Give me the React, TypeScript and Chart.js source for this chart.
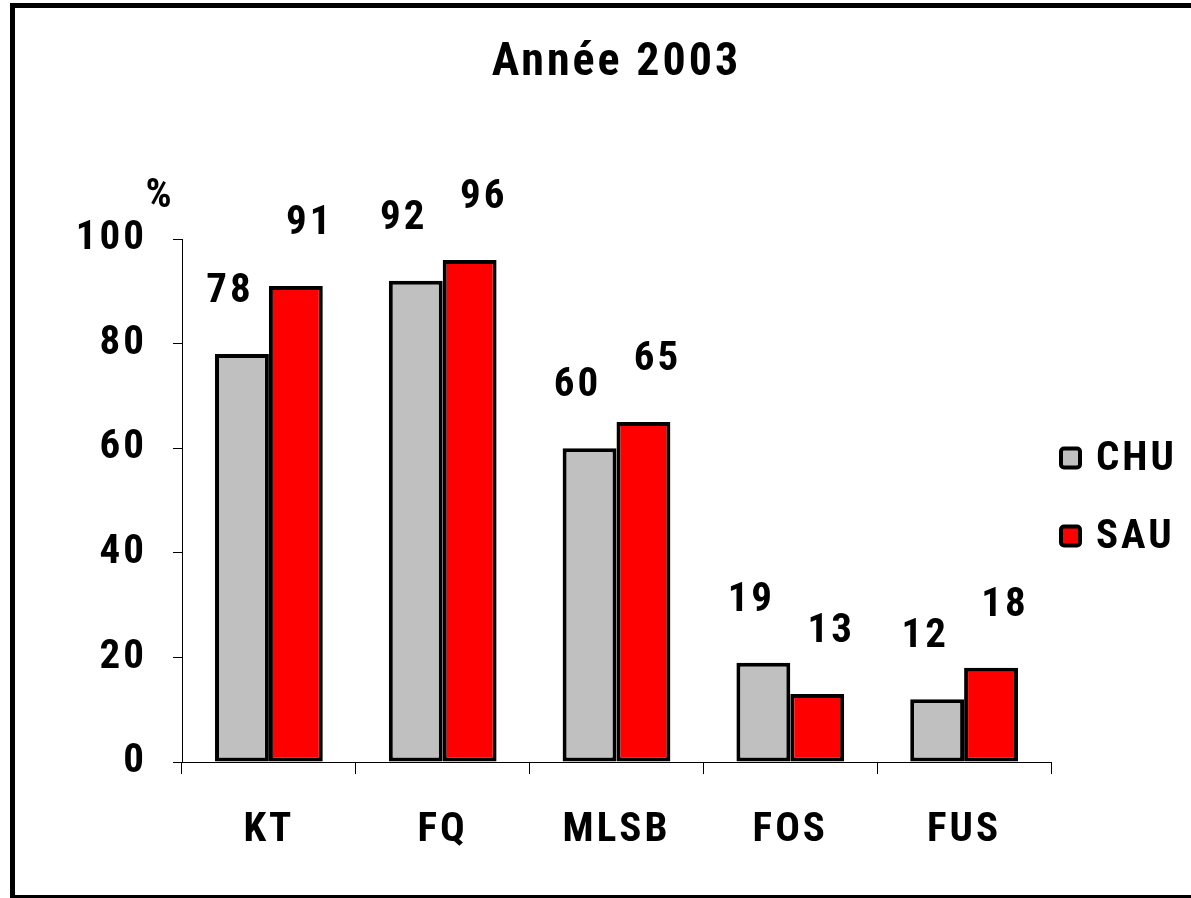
import { useEffect, useRef } from "react";
import { Chart, registerables } from "chart.js";

Chart.register(...registerables);

const categories = ["KT", "FQ", "MLSB", "FOS", "FUS"];
const seriesNames = ["CHU", "SAU"];
const chuValues = [78, 92, 60, 19, 12];
const sauValues = [91, 96, 65, 13, 18];
const seriesColors = ["#C0C0C0", "#FF0000"];
const yTicks = [0, 20, 40, 60, 80, 100];
const titleText = "Année 2003";
const unitLabel = "%";

const FONT = '"Roboto Condensed", "Open Sans", sans-serif';
const SPACING = "3px";
const labelShift = [-12, 14];

const spacingPlugin = {
  id: "spacing",
  beforeUpdate(chart: any) {
    chart.ctx.letterSpacing = SPACING;
  },
  beforeDraw(chart: any) {
    chart.ctx.letterSpacing = SPACING;
  },
};

const framePlugin = {
  id: "frame",
  afterDraw(chart: any) {
    const ctx = chart.ctx;
    const W = chart.width;
    const H = chart.height;
    ctx.save();
    ctx.fillStyle = "#000";
    ctx.fillRect(10, 3, W - 10, 5);
    ctx.fillRect(10, 3, 5, H - 3);
    ctx.fillRect(10, H - 3, W - 10, 3);
    ctx.restore();
  },
};

const labelsPlugin = {
  id: "valueLabels",
  afterDatasetsDraw(chart: any) {
    const ctx = chart.ctx;
    ctx.save();
    ctx.letterSpacing = SPACING;
    ctx.fillStyle = "#000";
    ctx.font = `bold 41px ${FONT}`;
    ctx.textAlign = "center";
    ctx.textBaseline = "middle";
    chart.data.datasets.forEach((ds: any, i: number) => {
      const meta = chart.getDatasetMeta(i);
      meta.data.forEach((bar: any, j: number) => {
        ctx.fillText(String(ds.data[j]), bar.x + labelShift[i], bar.y - 62);
      });
    });
    const ca = chart.chartArea;
    ctx.fillText(unitLabel, ca.left - 22, ca.top - 42);
    ctx.restore();
  },
};

const legendPlugin = {
  id: "sideLegend",
  afterDraw(chart: any) {
    const ctx = chart.ctx;
    const ca = chart.chartArea;
    const mid = (ca.top + ca.bottom) / 2;
    ctx.save();
    ctx.letterSpacing = SPACING;
    ctx.font = `bold 41px ${FONT}`;
    ctx.textAlign = "left";
    ctx.textBaseline = "middle";
    chart.data.datasets.forEach((ds: any, i: number) => {
      const cy = mid - 42 + i * 78;
      const bx = ca.right + 10;
      ctx.beginPath();
      ctx.roundRect(bx, cy - 10, 19, 19, 3);
      ctx.fillStyle = ds.backgroundColor;
      ctx.fill();
      ctx.lineWidth = 4;
      ctx.strokeStyle = "#000";
      ctx.stroke();
      ctx.fillStyle = "#000";
      ctx.fillText(ds.label, bx + 35, cy + 1);
    });
    ctx.restore();
  },
};

export default function App() {
  const ref = useRef<HTMLCanvasElement | null>(null);

  useEffect(() => {
    if (!ref.current) return;
    const font = { family: FONT, size: 41, weight: "bold" as const };
    const chart = new Chart(ref.current, {
      type: "bar",
      data: {
        labels: categories,
        datasets: [chuValues, sauValues].map((vals, i) => ({
          label: seriesNames[i],
          data: vals,
          backgroundColor: seriesColors[i],
          borderColor: "#000",
          borderWidth: 4,
          borderSkipped: false,
          categoryPercentage: 0.62,
          barPercentage: 1,
        })),
      },
      options: {
        responsive: false,
        maintainAspectRatio: false,
        devicePixelRatio: 1,
        animation: false,
        layout: { padding: { left: 0, right: 140, top: 0, bottom: 0 } },
        plugins: {
          legend: { display: false },
          tooltip: { enabled: false },
          title: {
            display: true,
            text: titleText,
            fullSize: false,
            color: "#000",
            font: { family: FONT, size: 46, weight: "bold", lineHeight: 1.2 },
            padding: { top: 36, bottom: 147.8 },
          },
        },
        scales: {
          x: {
            grid: {
              offset: true,
              drawOnChartArea: false,
              drawTicks: true,
              tickLength: 12,
              color: "#000",
              lineWidth: 1,
            },
            border: { color: "#000", width: 1 },
            ticks: { color: "#000", font, padding: 32, maxRotation: 0 },
            afterFit: (s: any) => {
              s.height = 136;
            },
          },
          y: {
            min: 0,
            max: 100,
            grid: {
              drawOnChartArea: false,
              drawTicks: true,
              tickLength: 9,
              color: "#000",
              lineWidth: 1,
            },
            border: { color: "#000", width: 1 },
            ticks: { color: "#000", font, padding: 26 },
            afterBuildTicks: (s: any) => {
              s.ticks = yTicks.map((v) => ({ value: v }));
            },
            afterFit: (s: any) => {
              s.width = 182;
            },
          },
        },
      },
      plugins: [spacingPlugin, labelsPlugin, legendPlugin, framePlugin],
    });
    return () => chart.destroy();
  }, []);

  return (
    <div style={{ position: "fixed", left: 0, top: 0, width: 1191, height: 898, background: "#fff" }}>
      <canvas ref={ref} width={1191} height={898} style={{ display: "block" }} />
    </div>
  );
}
